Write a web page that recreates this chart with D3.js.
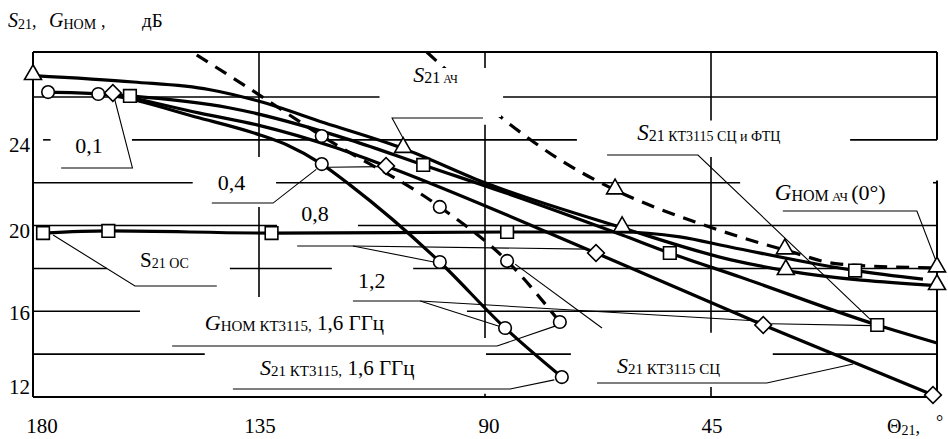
<!DOCTYPE html>
<html lang="ru">
<head>
<meta charset="UTF-8">
<title>S21, GНОМ vs Θ21</title>
<script src="https://d3js.org/d3.v7.min.js"></script>
<style>
  body { margin: 0; background: #fff; }
  svg { display: block; font-family: "Liberation Serif", "Times New Roman", serif; }
  .grid { stroke: #000; stroke-width: 1.6; fill: none; }
  .frame { stroke: #000; stroke-width: 2; fill: none; }
  .curve { stroke: #000; stroke-width: 3.2; fill: none; }
  .curve.dash { stroke-dasharray: 13 9; }
  .leader { stroke: #000; stroke-width: 1.1; fill: none; }
  .mark { fill: #fff; stroke: #000; stroke-width: 1.6; }
  text { fill: #000; }
</style>
</head>
<body>
<svg id="chart" width="948" height="439"></svg>
<script>
// ---- data (Θ21 in degrees, values in dB) ----
const yTicks = [12, 16, 20, 24];
const xTicks = [180, 135, 90, 45];

// S21 АЧ (solid, triangles)
const sAchTheta = [180, 160, 145, 135, 122, 106.3, 90, 62.7, 41, 30.1, 0];
const sAchVal   = [27.0, 26.7, 26.35, 25.8, 24.8, 23.6, 22.0, 19.9, 18.4, 17.9, 17.2];
const sAchMark  = [1, 0, 0, 0, 0, 1, 0, 1, 0, 1, 1];

// GНОМ АЧ (0°) (dashed, triangles)
const gAchTheta = [101.6, 95, 85.6, 75, 64.1, 47.6, 30.3, 19.3, 0];
const gAchVal   = [28.1, 26.7, 24.83, 23.06, 21.66, 20.12, 18.86, 18.2, 18.02];
const gAchMark  = [0, 0, 0, 0, 1, 0, 1, 0, 1];

// S21 КТ3115 СЦ и ФТЦ (solid, squares)
const sScfTheta = [160.7, 141, 116.9, 102.3, 83, 62.7, 53.2, 39.2, 11.9, 0];
const sScfVal   = [26.05, 25.5, 24.0, 22.83, 21.29, 19.56, 18.72, 17.6, 15.36, 14.52];
const sScfMark  = [1, 0, 0, 1, 0, 0, 1, 0, 1, 0];

// S21 КТ3115 СЦ (solid, diamonds)
const sScTheta = [164.1, 146.8, 135.2, 119.5, 109.7, 67.9, 34.6, 0.8];
const sScVal   = [26.19, 25.25, 24.69, 23.62, 22.78, 18.72, 15.36, 12.09];
const sScMark  = [1, 0, 0, 0, 1, 1, 1, 1];

// S21 КТ3115, 1,6 ГГц (solid, circles)
const sKtTheta = [177, 167, 146.8, 134.8, 129.4, 122.5, 116.9, 99, 86, 74.7];
const sKtVal   = [26.23, 26.14, 25.02, 24.23, 23.76, 22.87, 21.9, 18.3, 15.22, 12.93];
const sKtMark  = [1, 1, 0, 0, 0, 1, 0, 1, 1, 1];

// GНОМ КТ3115, 1,6 ГГц (dashed, circles)
const gKtTheta = [147.4, 137.4, 122.5, 99, 85.6, 75.1];
const gKtVal   = [27.96, 26.47, 24.18, 20.87, 18.35, 15.5];
const gKtMark  = [0, 0, 1, 1, 1, 1];

// S21 ОС (solid, squares)
const sOcTheta = [178, 165, 132.5, 85.6, 63, 51.2, 41.2, 16.3, 2.8];
const sOcVal   = [19.65, 19.75, 19.65, 19.7, 19.7, 19.47, 19.0, 17.9, 17.5];
const sOcMark  = [1, 1, 1, 1, 0, 0, 0, 1, 0];

// ---- layout ----
const x = d3.scaleLinear().domain([180, 0]).range([33, 937]);
const y = d3.scaleLinear().domain([12, 28.1]).range([397, 52]);
const TOP = 28.1;

const svg = d3.select("#chart");

// broken grid lines, as drawn in the original (spans in data units)
const hGrid = [
  [26, [[180, 111], [86.4, 0]]],
  [24, [[178, 176.5], [160.3, 71.7], [17.3, 0]]],
  [22, [[180, 148.2], [131.6, 39.2], [0.8, 0]]],
  [20, [[180, 131.4], [115.3, 0]]],
  [18, [[180, 165.3], [140.8, 120.5], [104.3, 0]]],
  [16, [[180, 158.7], [93.6, 0]]],
  [14, [[180, 145.8], [89.8, 72.9], [32.7, 0]]]
];
const vGrid = [
  [135, [[TOP, 23.2], [20.87, 16.67]]],
  [90, [[TOP, 27.26], [24.7, 14.75], [12.15, 12]]],
  [45, [[TOP, 24.9], [23.2, 15.0], [12.47, 12]]]
];

const gridG = svg.append("g");
hGrid.forEach(([v, spans]) => spans.forEach(([a, b]) => {
  gridG.append("line").attr("class", "grid")
    .attr("x1", x(a)).attr("x2", x(b)).attr("y1", y(v)).attr("y2", y(v));
}));
vGrid.forEach(([t, spans]) => spans.forEach(([a, b]) => {
  gridG.append("line").attr("class", "grid")
    .attr("x1", x(t)).attr("x2", x(t)).attr("y1", y(a)).attr("y2", y(b));
}));

// frame
const frameG = svg.append("g");
frameG.append("line").attr("class", "frame").attr("x1", x(180)).attr("x2", x(180)).attr("y1", y(TOP)).attr("y2", y(12));
frameG.append("line").attr("class", "frame").attr("x1", x(180)).attr("x2", x(0)).attr("y1", y(TOP)).attr("y2", y(TOP));
frameG.append("line").attr("class", "frame").attr("x1", x(180)).attr("x2", x(0)).attr("y1", y(12)).attr("y2", y(12));
[[TOP, 24.0], [22.1, 12]].forEach(([a, b]) => {
  frameG.append("line").attr("class", "frame").attr("x1", x(0)).attr("x2", x(0)).attr("y1", y(a)).attr("y2", y(b));
});

// curves
const series = [
  { t: gKtTheta, v: gKtVal, m: gKtMark, dash: true, sym: "circle" },
  { t: gAchTheta, v: gAchVal, m: gAchMark, dash: true, sym: "triangle" },
  { t: sOcTheta, v: sOcVal, m: sOcMark, dash: false, sym: "square" },
  { t: sKtTheta, v: sKtVal, m: sKtMark, dash: false, sym: "circle" },
  { t: sScTheta, v: sScVal, m: sScMark, dash: false, sym: "diamond" },
  { t: sScfTheta, v: sScfVal, m: sScfMark, dash: false, sym: "square" },
  { t: sAchTheta, v: sAchVal, m: sAchMark, dash: false, sym: "triangle" }
];

const line = d3.line().x(d => x(d[0])).y(d => y(d[1])).curve(d3.curveMonotoneX);

const curveG = svg.append("g");
series.forEach(s => {
  const pts = s.t.map((t, i) => [t, s.v[i]]);
  curveG.append("path").attr("class", s.dash ? "curve dash" : "curve").attr("d", line(pts));
});

// white box under the "S21 АЧ" label (the original blanks the dashes there)
svg.append("rect").attr("x", 383).attr("y", 68).attr("width", 118).attr("height", 49).attr("fill", "#fff");

// leader lines (data units)
const leaders = [
  [[174.4, 22.69], [160.2, 22.69], [163.7, 25.86]],                 // 0,1
  [[144.4, 21.05], [132.2, 21.05], [123.6, 22.62]],                 // 0,4
  [[121.2, 22.72], [110.6, 22.75]],
  [[127.4, 19.05], [116.3, 19.05], [100.2, 18.3]],                  // 0,8
  [[116.3, 19.05], [69.5, 18.9]],
  [[116.3, 16.48], [102.9, 16.48], [87.2, 15.3]],                   // 1,2
  [[102.9, 16.48], [35.6, 15.55]],
  [[33.0, 15.42], [12.7, 15.33]],
  [[84.0, 18.2], [66.7, 15.22]],
  [[176.0, 19.56], [159.7, 17.18], [143.4, 17.18]],                 // S21 ОС
  [[152.3, 14.38], [87.6, 14.38], [75.9, 15.32]],                   // GНОМ КТ3115
  [[140.2, 12.37], [85.0, 12.37], [76.2, 12.8]],                    // S21 КТ3115
  [[90.4, 25.02], [108.5, 25.02], [105.9, 23.9]],                   // S21 АЧ
  [[65.7, 23.29], [47.6, 23.29], [12.3, 15.4]],                     // S21 СЦ и ФТЦ
  [[30.7, 20.68], [4.0, 20.68], [0.2, 18.35]],                      // GНОМ АЧ
  [[67.7, 12.65], [33.9, 12.65], [16.7, 13.54]]                     // S21 СЦ
];
const straight = d3.line().x(d => x(d[0])).y(d => y(d[1]));
const leaderG = svg.append("g");
leaders.forEach(p => leaderG.append("path").attr("class", "leader").attr("d", straight(p)));

// markers
const symbols = {
  circle: d3.symbol().type(d3.symbolCircle).size(125),
  square: d3.symbol().type(d3.symbolSquare).size(160),
  triangle: d3.symbol().type(d3.symbolTriangle).size(125),
  diamond: d3.symbol().type(d3.symbolSquare).size(140)
};
const markG = svg.append("g");
series.forEach(s => {
  s.t.forEach((t, i) => {
    if (!s.m[i]) return;
    const p = markG.append("path").attr("class", "mark").attr("d", symbols[s.sym]());
    const rot = s.sym === "diamond" ? " rotate(45)" : "";
    const dy = s.sym === "triangle" ? -1 : 0;
    p.attr("transform", `translate(${x(t)},${y(s.v[i]) + dy})${rot}`);
  });
});

// rich text helper: parts = [text, size, italic, baselineOffset, absoluteX]
function rich(px, py, parts) {
  const t = svg.append("text").attr("x", px).attr("y", py);
  let cur = 0;
  parts.forEach(([s, size, it, off, ax]) => {
    off = off || 0;
    const sp = t.append("tspan").attr("font-size", size).attr("font-style", it ? "italic" : "normal")
      .attr("dy", off - cur).text(s);
    if (ax !== undefined) sp.attr("x", ax);
    cur = off;
  });
  return t;
}

// tick labels
const tickG = svg.append("g").attr("font-size", 21);
yTicks.forEach(v => {
  const off = v === 12 ? -3 : (v === 16 ? 9 : 12);
  tickG.append("text").attr("x", 30).attr("y", y(v) + off).attr("text-anchor", "end").text(v);
});
xTicks.forEach(t => {
  const off = t === 180 ? 9 : (t === 90 ? 4 : 1);
  tickG.append("text").attr("x", x(t) + off).attr("y", 433).attr("text-anchor", "middle").text(t);
});

// axis titles
rich(8, 27, [["S", 20, true], ["21", 14, false, 2], [",", 18, false, 0],
             ["G", 20, true, 0, 49], ["НОМ", 14, false, 2], [",", 18, false, 0, 101],
             ["дБ", 19, false, 0, 142]]);
rich(887, 433, [["Θ", 20, false], ["21", 14, false, 2], [",", 18, false, 0], ["°", 18, false, -5, 936]]);

// frequency labels
[["0,1", 171.6, 23.39], ["0,4", 143.2, 21.66], ["0,8", 126.6, 20.2], ["1,2", 115.3, 17.09]].forEach(([s, t, v]) => {
  svg.append("text").attr("x", x(t)).attr("y", y(v)).attr("font-size", 22).text(s);
});

// curve labels
rich(x(104.3), y(26.69), [["S", 22, true], ["21", 16, false, 1], [" АЧ", 12, false, 1]]);
rich(x(59.7), y(23.99), [["S", 23, true], ["21", 16, false, 1], [" КТ3115 СЦ и ФТЦ", 14, false, 1]]);
rich(x(32.3), y(21.19), [["G", 23, true], ["НОМ", 16, false, 1], [" АЧ ", 13, false, 1], ["(0°)", 22, false]]);
rich(x(158.7), y(18.07), [["S", 21, false], ["21 ОС", 14, false, 1]]);
rich(x(145.8), y(15.13), [["G", 22, true], ["НОМ КТ3115,", 15, false, 1], [" 1,6 ГГц", 21, false]]);
rich(x(134.8), y(13.03), [["S", 22, true], ["21 КТ3115,", 15, false, 1], [" 1,6 ГГц", 21, false]]);
rich(x(63.7), y(13.12), [["S", 22, true], ["21 КТ3115 СЦ", 15, false, 1]]);
</script>
</body>
</html>
